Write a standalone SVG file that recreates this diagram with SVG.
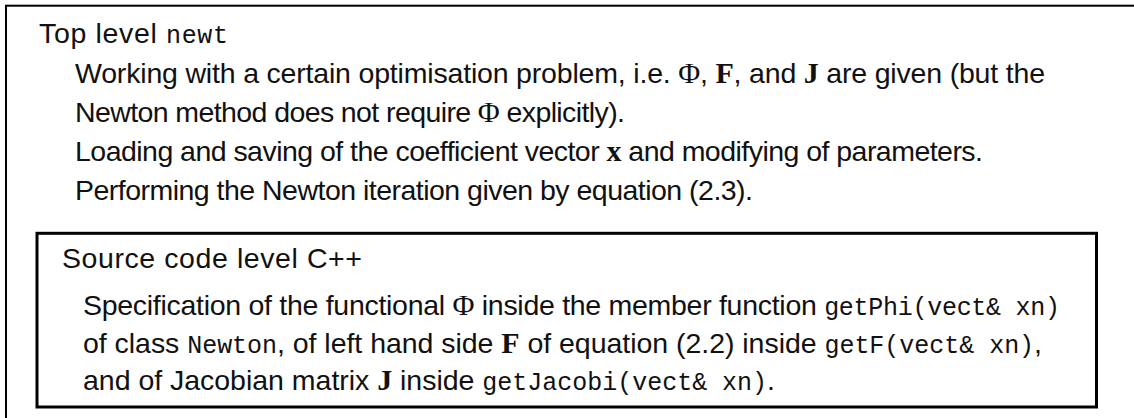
<svg xmlns="http://www.w3.org/2000/svg" width="1134" height="418" viewBox="0 0 1134 418">
<style>
.box{fill:none;stroke:#000}
.t{font-family:"Liberation Sans",Arial,sans-serif;font-size:28.5px;fill:#111}
.tt{font-family:"Liberation Mono","Courier New",monospace;font-size:25px}
.m{font-family:"Liberation Serif","Times New Roman",serif;font-size:30px}
.b{font-family:"Liberation Serif","Times New Roman",serif;font-weight:bold;font-size:30px}
</style>
<rect width="1134" height="418" fill="#fff"/>
<g id="top-level">
<rect class="box" x="6" y="5.7" width="1140" height="430" stroke-width="2"/>
<text class="t" x="39" y="43" textLength="189" lengthAdjust="spacing">Top level <tspan class="tt">newt</tspan></text>
<text class="t" x="75" y="83" textLength="970" lengthAdjust="spacing">Working with a certain optimisation problem, i.e. <tspan class="m">Φ</tspan>, <tspan class="b">F</tspan>, and <tspan class="b">J</tspan> are given (but the</text>
<text class="t" x="75" y="122" textLength="550" lengthAdjust="spacing">Newton method does not require <tspan class="m">Φ</tspan> explicitly).</text>
<text class="t" x="75" y="161" textLength="908" lengthAdjust="spacing">Loading and saving of the coefficient vector <tspan class="b">x</tspan> and modifying of parameters.</text>
<text class="t" x="75" y="200" textLength="678" lengthAdjust="spacing">Performing the Newton iteration given by equation (2.3).</text>
</g>
<g id="source-code-level">
<rect class="box" x="37" y="233.3" width="1059.5" height="173.7" stroke-width="3"/>
<text class="t" x="62" y="268" textLength="300" lengthAdjust="spacing">Source code level C++</text>
<text class="t" x="83" y="315" textLength="977" lengthAdjust="spacing">Specification of the functional <tspan class="m">Φ</tspan> inside the member function <tspan class="tt">getPhi(vect&amp; xn)</tspan></text>
<text class="t" x="83" y="353" textLength="959" lengthAdjust="spacing">of class <tspan class="tt">Newton</tspan>, of left hand side <tspan class="b">F</tspan> of equation (2.2) inside <tspan class="tt">getF(vect&amp; xn)</tspan>,</text>
<text class="t" x="83" y="390" textLength="692" lengthAdjust="spacing">and of Jacobian matrix <tspan class="b">J</tspan> inside <tspan class="tt">getJacobi(vect&amp; xn)</tspan>.</text>
</g>
<g id="connectors"/>
</svg>
